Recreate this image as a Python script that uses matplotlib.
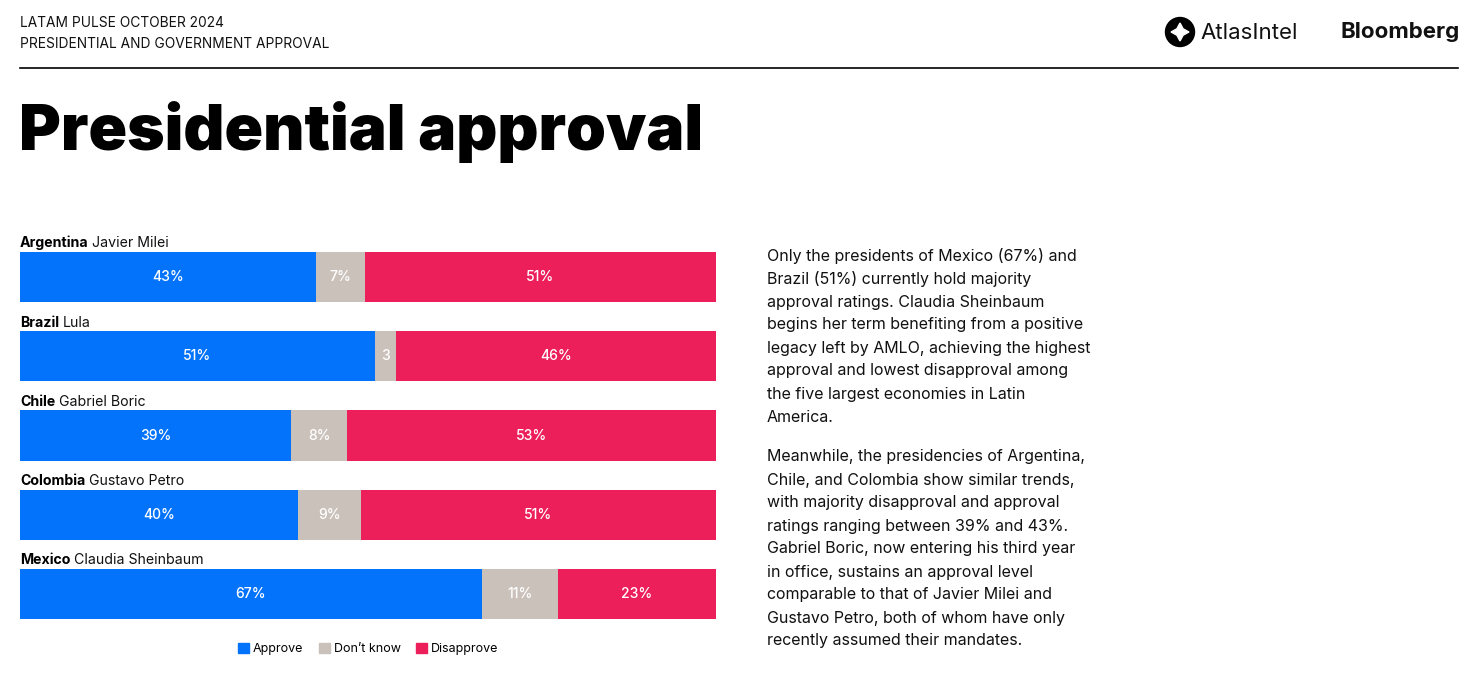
import matplotlib.pyplot as plt
from matplotlib.patches import Patch, Circle, Polygon

countries = ["Argentina", "Brazil", "Chile", "Colombia", "Mexico"]
presidents = ["Javier Milei", "Lula", "Gabriel Boric", "Gustavo Petro", "Claudia Sheinbaum"]
approve = [43, 51, 39, 40, 67]
dont_know = [7, 3, 8, 9, 11]
disapprove = [51, 46, 53, 51, 23]
dk_labels = ["7%", "3", "8%", "9%", "11%"]

BLUE = "#0473fb"
GRAY = "#cbc1bb"
PINK = "#ec1f5b"

W, H = 1476, 684
fig = plt.figure(figsize=(W / 100, H / 100), dpi=100)
fig.patch.set_facecolor("white")


def px(x, y):
    return x / W, 1 - y / H


# header
fig.text(*px(20, 23), "LATAM PULSE OCTOBER 2024", fontsize=9.9, family="Inter", va="center", color="#111111")
fig.text(*px(20, 44), "PRESIDENTIAL AND GOVERNMENT APPROVAL", fontsize=9.9, family="Inter", va="center", color="#111111")
fig.add_artist(plt.Line2D([20 / W, 1458 / W], [1 - 68 / H] * 2, color="black", lw=1.2))

# logos
lax = fig.add_axes([1164 / W, 1 - 48 / H, 32 / W, 32 / H])
lax.set_xlim(-16, 16)
lax.set_ylim(-16, 16)
lax.set_aspect("equal")
lax.axis("off")
lax.add_patch(Circle((0, 0), 14.5, color="black"))
d = 9
lax.add_patch(Polygon([(0, d), (d * 0.35, d * 0.35), (d, 0), (d * 0.35, -d * 0.35), (0, -d),
                       (-d * 0.35, -d * 0.35), (-d, 0), (-d * 0.35, d * 0.35)], closed=True,
                      color="white"))
fig.text(*px(1200, 33), "AtlasIntel", fontsize=16, family="Inter", va="center", color="#111111")
fig.text(*px(1340, 32), "Bloomberg", fontsize=16.1, family="Inter", weight="bold", va="center", color="#111111")

# title
fig.text(*px(19, 132), "Presidential approval", fontsize=46, family="Inter", weight="black",
         va="center", color="black")

# bars
ax = fig.add_axes([20 / W, 1 - 619 / H, 696 / W, 367 / H])
bh = 50 / 79
ys = list(range(len(countries)))
for i in ys:
    tot = approve[i] + dont_know[i] + disapprove[i]
    a = approve[i] / tot * 100
    k = dont_know[i] / tot * 100
    r = disapprove[i] / tot * 100
    ax.barh(i, a, height=bh, color=BLUE, left=0)
    ax.barh(i, k, height=bh, color=GRAY, left=a)
    ax.barh(i, r, height=bh, color=PINK, left=a + k)
    kw = dict(ha="center", va="center", color="white", fontsize=10, family="Inter", weight="medium")
    ax.text(a / 2, i, f"{approve[i]}%", **kw)
    ax.text(a + k / 2, i, dk_labels[i], **kw)
    ax.text(a + k + r / 2, i, f"{disapprove[i]}%", **kw)

ax.set_xlim(0, 100)
ax.set_ylim(len(countries) - 1 + bh / 2, -bh / 2)
ax.axis("off")

fig.canvas.draw()
renderer = fig.canvas.get_renderer()
for i in ys:
    t = ax.text(0, i - bh / 2 - 0.02, countries[i], fontsize=10.2, family="Inter", weight="bold",
                va="bottom", ha="left", color="black")
    bb = t.get_window_extent(renderer)
    x_end = ax.transData.inverted().transform((bb.x1 + 3.5, bb.y0))[0]
    ax.text(x_end, i - bh / 2 - 0.02, presidents[i], fontsize=10.2, family="Inter",
            va="bottom", ha="left", color="#111111")

# legend
handles = [Patch(color=BLUE, label="Approve"), Patch(color=GRAY, label="Don\u2019t know"),
           Patch(color=PINK, label="Disapprove")]
fig.legend(handles=handles, loc="center", bbox_to_anchor=px(368, 649), ncol=3, frameon=False,
           prop={"family": "Inter", "size": 9}, handlelength=0.9, handleheight=0.9,
           handletextpad=0.3, columnspacing=1.2)

# commentary
p1 = ["Only the presidents of Mexico (67%) and",
      "Brazil (51%) currently hold majority",
      "approval ratings. Claudia Sheinbaum",
      "begins her term benefiting from a positive",
      "legacy left by AMLO, achieving the highest",
      "approval and lowest disapproval among",
      "the five largest economies in Latin",
      "America."]
p2 = ["Meanwhile, the presidencies of Argentina,",
      "Chile, and Colombia show similar trends,",
      "with majority disapproval and approval",
      "ratings ranging between 39% and 43%.",
      "Gabriel Boric, now entering his third year",
      "in office, sustains an approval level",
      "comparable to that of Javier Milei and",
      "Gustavo Petro, both of whom have only",
      "recently assumed their mandates."]
for start, lines in [(256, p1), (457, p2)]:
    for j, line in enumerate(lines):
        fig.text(*px(767, start + 23 * j), line, fontsize=11.5, family="Inter", va="center",
                 color="#111111")

fig.savefig("out.png", dpi=100)
